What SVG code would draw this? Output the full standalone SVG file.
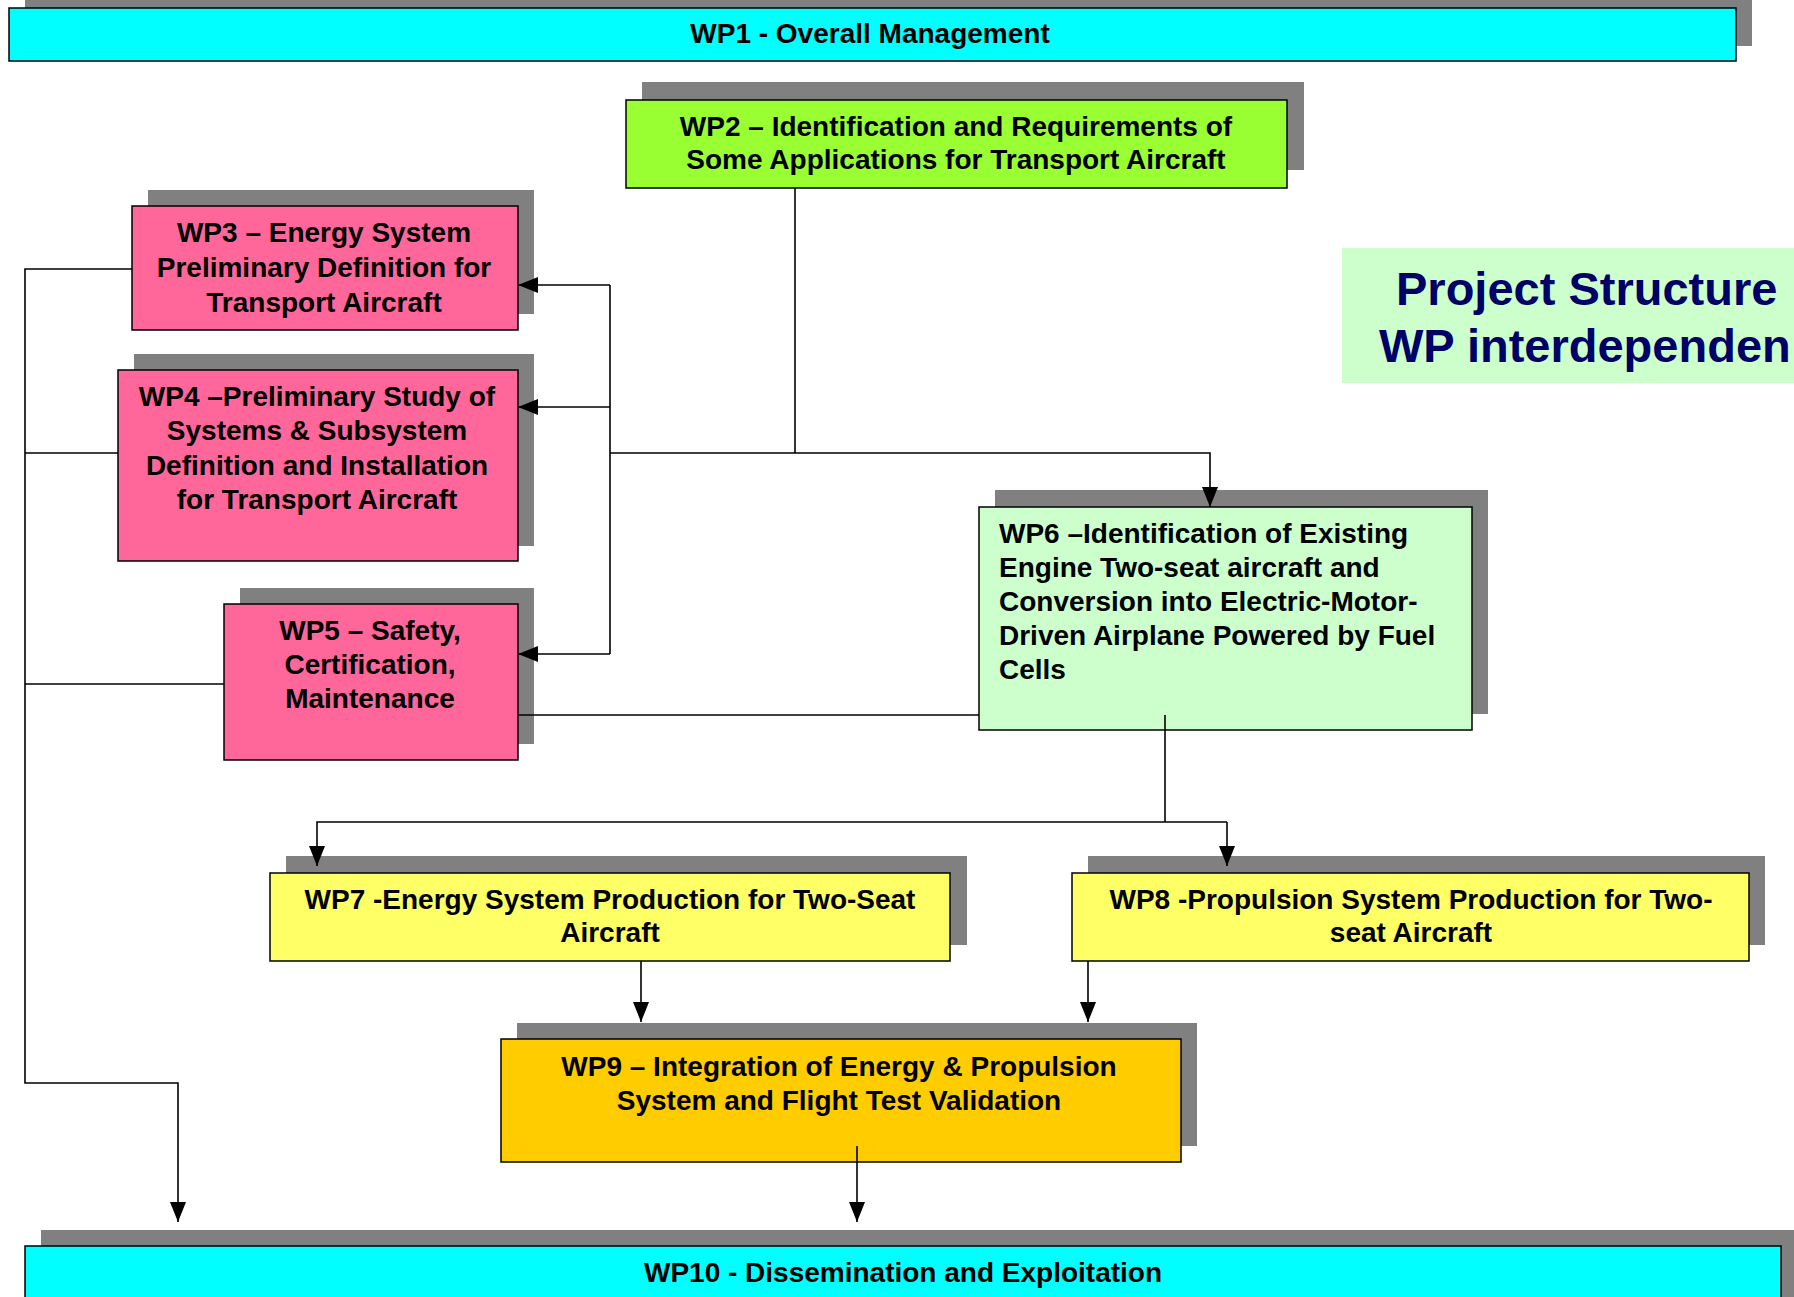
<svg xmlns="http://www.w3.org/2000/svg" width="1794" height="1297" viewBox="0 0 1794 1297">
<style>
.sh{fill:#808080}
.bx{stroke:#000;stroke-width:1.5}
.t{font-family:"Liberation Sans",Arial,sans-serif;font-weight:bold;font-size:28px;fill:#000;text-anchor:middle}
.tl{text-anchor:start}
.c{fill:none;stroke:#000;stroke-width:1.6}
.ttl{font-family:"Liberation Sans",Arial,sans-serif;font-weight:bold;font-size:47px;fill:#000066}
</style>
<defs>
<marker id="a" viewBox="0 0 20 16" refX="20" refY="8" markerWidth="20" markerHeight="16" markerUnits="userSpaceOnUse" orient="auto">
<path d="M0,0 L20,8 L0,16 z" fill="#000"/>
</marker>
</defs>
<rect width="1794" height="1297" fill="#fff"/>

<g id="title">
<rect x="1342" y="248" width="460" height="135" fill="#ccffcc"/>
<text class="ttl" x="1396" y="305">Project Structure</text>
<text class="ttl" x="1379" y="362">WP interdependen</text>
</g>

<g id="wp1">
<rect class="sh" x="25" y="-10" width="1727" height="56"/>
<rect class="bx" x="9" y="8" width="1727" height="53" fill="#00ffff"/>
<text class="t" x="870" y="43">WP1 - Overall Management</text>
</g>

<g id="wp2">
<rect class="sh" x="642" y="82" width="662" height="88"/>
<rect class="bx" x="626" y="100" width="661" height="88" fill="#99ff33"/>
<text class="t" x="956" y="136">WP2 – Identification and Requirements of</text>
<text class="t" x="956" y="169">Some Applications for Transport Aircraft</text>
</g>

<g id="wp3">
<rect class="sh" x="148" y="190" width="386" height="124"/>
<rect class="bx" x="132" y="206" width="386" height="124" fill="#ff6699"/>
<text class="t" x="324" y="242">WP3 – Energy System</text>
<text class="t" x="324" y="277">Preliminary Definition for</text>
<text class="t" x="324" y="312">Transport Aircraft</text>
</g>

<g id="wp4">
<rect class="sh" x="134" y="354" width="400" height="192"/>
<rect class="bx" x="118" y="370" width="400" height="191" fill="#ff6699"/>
<text class="t" x="317" y="406">WP4 –Preliminary Study of</text>
<text class="t" x="317" y="440">Systems &amp; Subsystem</text>
<text class="t" x="317" y="475">Definition and Installation</text>
<text class="t" x="317" y="509">for Transport Aircraft</text>
</g>

<g id="wp5">
<rect class="sh" x="240" y="588" width="294" height="156"/>
<rect class="bx" x="224" y="604" width="294" height="156" fill="#ff6699"/>
<text class="t" x="370" y="640">WP5 – Safety,</text>
<text class="t" x="370" y="674">Certification,</text>
<text class="t" x="370" y="708">Maintenance</text>
</g>

<g id="wp6">
<rect class="sh" x="995" y="490" width="493" height="224"/>
<rect class="bx" x="979" y="507" width="493" height="223" fill="#ccffcc"/>
<text class="t tl" x="999" y="543">WP6 –Identification of Existing</text>
<text class="t tl" x="999" y="577">Engine Two-seat aircraft and</text>
<text class="t tl" x="999" y="611">Conversion into Electric-Motor-</text>
<text class="t tl" x="999" y="645">Driven Airplane Powered by Fuel</text>
<text class="t tl" x="999" y="679">Cells</text>
</g>

<g id="wp7">
<rect class="sh" x="286" y="856" width="681" height="89"/>
<rect class="bx" x="270" y="873" width="680" height="88" fill="#ffff66"/>
<text class="t" x="610" y="909">WP7 -Energy System Production for Two-Seat</text>
<text class="t" x="610" y="942">Aircraft</text>
</g>

<g id="wp8">
<rect class="sh" x="1088" y="856" width="677" height="89"/>
<rect class="bx" x="1072" y="873" width="677" height="88" fill="#ffff66"/>
<text class="t" x="1411" y="909">WP8 -Propulsion System Production for Two-</text>
<text class="t" x="1411" y="942">seat Aircraft</text>
</g>

<g id="wp9">
<rect class="sh" x="517" y="1023" width="680" height="123"/>
<rect class="bx" x="501" y="1039" width="680" height="123" fill="#ffcc00"/>
<text class="t" x="839" y="1076">WP9 – Integration of Energy &amp; Propulsion</text>
<text class="t" x="839" y="1110">System and Flight Test Validation</text>
</g>

<g id="wp10">
<rect class="sh" x="41" y="1230" width="1760" height="80"/>
<rect class="bx" x="25" y="1246" width="1756" height="70" fill="#00ffff"/>
<text class="t" x="903" y="1282">WP10 - Dissemination and Exploitation</text>
</g>

<g id="connectors">
<path class="c" d="M795,188 V453"/>
<path class="c" d="M610,453 H1210 V507" marker-end="url(#a)"/>
<path class="c" d="M610,285 V654"/>
<path class="c" d="M610,285 H518" marker-end="url(#a)"/>
<path class="c" d="M610,407 H518" marker-end="url(#a)"/>
<path class="c" d="M610,654 H518" marker-end="url(#a)"/>
<path class="c" d="M132,269 H25 V1083 H178 V1222" marker-end="url(#a)"/>
<path class="c" d="M118,453 H25"/>
<path class="c" d="M224,684 H25"/>
<path class="c" d="M518,715 H979"/>
<path class="c" d="M1165,715 V822"/>
<path class="c" d="M1227,822 H317 V866" marker-end="url(#a)"/>
<path class="c" d="M1227,822 V866" marker-end="url(#a)"/>
<path class="c" d="M641,961 V1022" marker-end="url(#a)"/>
<path class="c" d="M1088,961 V1022" marker-end="url(#a)"/>
<path class="c" d="M857,1146 V1222" marker-end="url(#a)"/>
</g>
</svg>
